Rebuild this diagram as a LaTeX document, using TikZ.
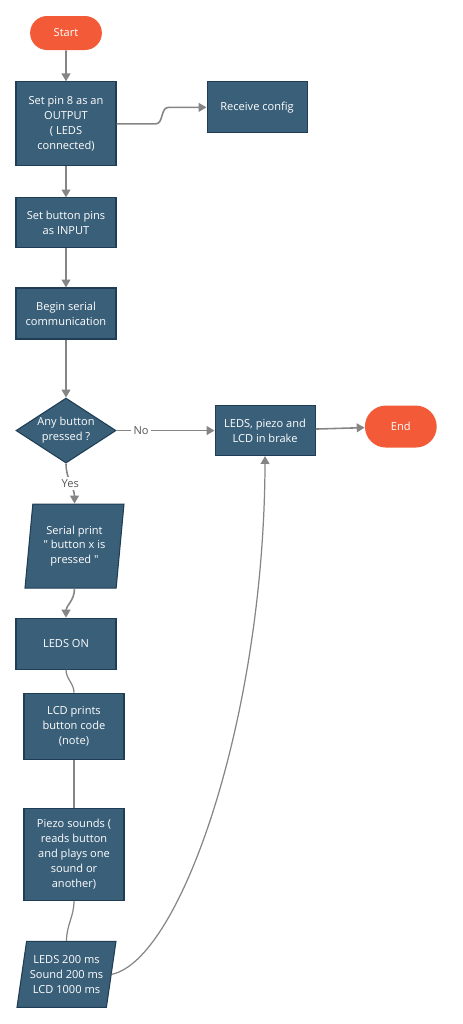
\documentclass[tikz,border=0pt]{standalone}
\usepackage{fontspec}
\setmainfont{Open Sans}
\usepackage{tikz}
\usetikzlibrary{shapes.geometric, shapes.misc, arrows.meta, positioning, calc}
\definecolor{boxBlue}{HTML}{3A5F79}
\definecolor{boxEdge}{HTML}{1F3D54}
\definecolor{termRed}{HTML}{F25A38}
\definecolor{lineGray}{HTML}{858585}
\definecolor{labelGray}{HTML}{555555}

\begin{document}
\begin{tikzpicture}[
    node distance=0.64cm,
    every node/.style={font=\fontsize{6.3}{8.5}\selectfont},
    box/.style={rectangle, minimum width=2cm, fill=boxBlue, draw=boxEdge, line width=0.6pt,
                text=white, align=center, inner sep=1pt},
    term/.style={rounded rectangle, minimum width=1.67cm, fill=termRed, text=white},
    decision/.style={diamond, aspect=1.54, minimum width=2cm, minimum height=1.3cm, inner sep=0pt,
                fill=boxBlue, draw=boxEdge, line width=0.6pt, text=white, align=center},
    io/.style={trapezium, trapezium stretches body, minimum width=1.98cm, inner sep=1pt,
                fill=boxBlue, draw=boxEdge, line width=0.6pt, text=white, align=center},
    arrow/.style={-{Triangle[width=5pt,length=4.5pt]}, line width=0.9pt, color=lineGray},
    link/.style={line width=0.7pt, color=lineGray},
    answer/.style={fill=white, text=labelGray, inner sep=1.5pt}
]
\useasboundingbox (0,0) rectangle (9.26,-20.48);

% Start
\node[term, minimum height=0.68cm] (start) at (1.32,-0.66) {Start};

% Setup
\node[box, minimum height=1.68cm, below=0.62cm of start] (pin) {Set pin 8 as an\\OUTPUT\\( LEDS\\connected)};
\node[box, minimum height=1.02cm, right=1.8cm of pin, yshift=0.33cm] (recv) {Receive config};
\node[box, minimum height=1cm, below=0.62cm of pin] (buttons) {Set button pins\\as INPUT};
\node[box, minimum height=1.02cm, below=0.78cm of buttons] (serial) {Begin serial\\communication};

% Decision
\node[decision, below=1.16cm of serial] (pressed) {Any button\\pressed ?};
\node[box, minimum height=1cm, right=1.96cm of pressed] (brake) {LEDS, piezo and\\LCD in brake};
\node[term, minimum height=0.84cm, right=0.98cm of brake, yshift=0.08cm] (stop) {End};

% Button pressed
\node[io, minimum height=1.68cm, trapezium left angle=80, trapezium right angle=100,
      below=0.8cm of pressed, xshift=0.17cm] (print) {Serial print\\\textquotedbl\ button x is\\pressed \textquotedbl};
\node[box, minimum height=1.02cm, below=0.58cm of print, xshift=-0.17cm] (ledson) {LEDS ON};
\node[box, minimum height=1.32cm, below=0.46cm of ledson, xshift=0.16cm] (lcd) {LCD prints\\button code\\(note)};
\node[box, minimum height=1.84cm, below=0.96cm of lcd] (piezo) {Piezo sounds (\\reads button\\and plays one\\sound or\\another)};
\node[io, minimum height=1.32cm, trapezium left angle=77, trapezium right angle=103,
      below=0.8cm of piezo, xshift=-0.15cm] (delay) {LEDS 200 ms\\Sound 200 ms\\LCD 1000 ms};

% Arrows
\draw[arrow] (start) -- (pin);
\draw[arrow] (pin.east) -- ++(0.78,0) to[out=0,in=180] ($(recv.west)+(-0.76,0)$) -- (recv.west);
\draw[arrow] (pin) -- (buttons);
\draw[arrow] (buttons) -- (serial);
\draw[arrow] (serial) -- (pressed);
\draw[arrow] (pressed) -- node[answer, pos=0.25]{No} (brake);
\draw[arrow] (brake) -- (stop);
\draw[arrow] (pressed.south) to[out=-90,in=90] node[answer]{Yes} (print.north);
\draw[arrow] (print.south) to[out=-90,in=90] (ledson.north);
\draw[link] (ledson.south) to[out=-90,in=90] (lcd.north);
\draw[link] (lcd) -- (piezo);
\draw[link] (piezo.south) to[out=-90,in=90] (delay.north);
\draw[arrow, line width=0.7pt] (delay.east) .. controls (3.6,-19.2) and (5.28,-14.4) .. (brake.south);

\end{tikzpicture}
\end{document}
